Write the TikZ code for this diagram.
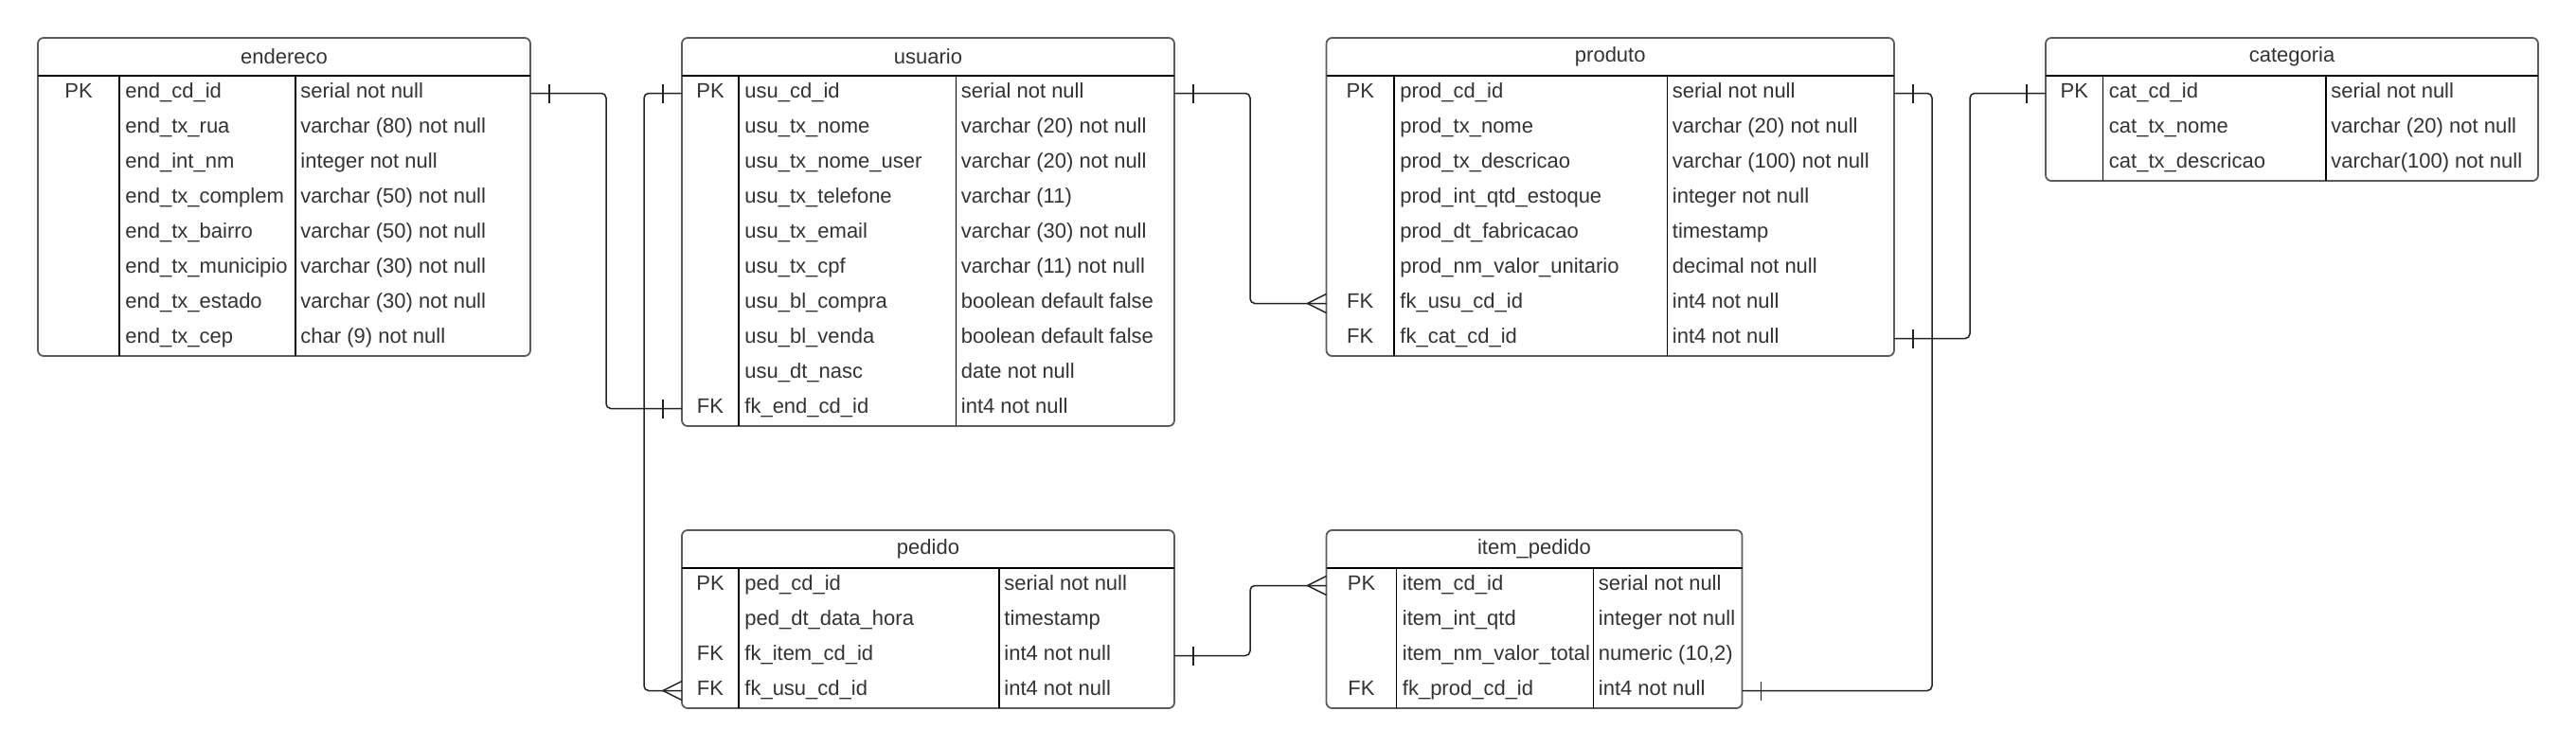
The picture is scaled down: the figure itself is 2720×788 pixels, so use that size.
\documentclass[tikz,border=0pt]{standalone}
\usepackage{fontspec}
\setmainfont{Liberation Sans}
\usetikzlibrary{calc}
\definecolor{txt}{HTML}{333333}
\definecolor{edgegray}{HTML}{5C5C5C}
\definecolor{conncol}{HTML}{222222}
\tikzset{
  tblbox/.style={draw=edgegray, line width=0.9pt, rounded corners=3pt, fill=white, inner sep=0pt, outer sep=0pt},
  innerline/.style={draw=black, line width=0.8pt},
  titletext/.style={text=txt, inner sep=0pt, font=\fontsize{11}{13}\selectfont},
  celltext/.style={text=txt, inner sep=0pt, text height=0.72em, text depth=0pt, font=\fontsize{11}{13}\selectfont},
  conn/.style={draw=conncol, line width=0.75pt, rounded corners=2.5pt},
  connmark/.style={draw=conncol, line width=0.75pt}
}
\newcommand\ertable[9]{%
  \pgfmathsetmacro\tbbot{#6+40+37*#7}%
  \pgfmathsetmacro\tbw{(#3-#2)*0.5}%
  \pgfmathsetmacro\tbh{(\tbbot-#6)*0.5}%
  \node[tblbox, minimum width=\tbw pt, minimum height=\tbh pt, anchor=north west] (#1) at (#2,#6) {};
  \node[titletext] (#1-title) at ({(#2+#3)/2},#6+20) {#8};
  \draw[innerline] (#2,#6+40) -- (#3,#6+40);
  \draw[innerline] (#4,#6+40) -- (#4,\tbbot);
  \draw[innerline] (#5,#6+40) -- (#5,\tbbot);
  \foreach \ekey/\efield/\etype [count=\i] in {#9} {
    \pgfmathsetmacro\ry{#6+40+37*(\i-0.5)}
    \pgfmathsetmacro\ty{\ry-2}
    \coordinate (#1-r\i) at (#2,\ry);
    \coordinate (#1-re\i) at (#3,\ry);
    \node[celltext] (#1-k\i) at ({(#2+#4)/2},\ty) {\ekey};
    \node[celltext, anchor=west] (#1-f\i) at (#4+6,\ty) {\efield};
    \node[celltext, anchor=west] (#1-t\i) at (#5+5,\ty) {\etype};
  }
}
\newcommand\onemark[2]{\draw[connmark] ($(#1)+(#2,-10)$) -- ($(#1)+(#2,10)$);}
\newcommand\crowwest[1]{\draw[connmark] ($(#1)+(0,-10)$) -- ($(#1)+(-20,0)$) -- ($(#1)+(0,10)$);}
\begin{document}
\begin{tikzpicture}[x=0.5pt,y=-0.5pt]
\useasboundingbox (0,0) rectangle (2720,788);
\fill[white] (0,0) rectangle (2720,788);

\ertable{endereco}{40}{560}{126}{312}{40}{8}{endereco}{PK/end\_cd\_id/serial not null, /end\_tx\_rua/varchar (80) not null, /end\_int\_nm/integer not null, /end\_tx\_complem/varchar (50) not null, /end\_tx\_bairro/varchar (50) not null, /end\_tx\_municipio/varchar (30) not null, /end\_tx\_estado/varchar (30) not null, /end\_tx\_cep/char (9) not null}

\ertable{usuario}{720}{1240}{780}{1009.5}{40}{10}{usuario}{PK/usu\_cd\_id/serial not null, /usu\_tx\_nome/varchar (20) not null, /usu\_tx\_nome\_user/varchar (20) not null, /usu\_tx\_telefone/varchar (11), /usu\_tx\_email/varchar (30) not null, /usu\_tx\_cpf/varchar (11) not null, /usu\_bl\_compra/boolean default false, /usu\_bl\_venda/boolean default false, /usu\_dt\_nasc/date not null, FK/fk\_end\_cd\_id/int4 not null}

\ertable{produto}{1400.5}{2000}{1472}{1760.5}{40}{8}{produto}{PK/prod\_cd\_id/serial not null, /prod\_tx\_nome/varchar (20) not null, /prod\_tx\_descricao/varchar (100) not null, /prod\_int\_qtd\_estoque/integer not null, /prod\_dt\_fabricacao/timestamp, /prod\_nm\_valor\_unitario/decimal not null, FK/fk\_usu\_cd\_id/int4 not null, FK/fk\_cat\_cd\_id/int4 not null}

\ertable{categoria}{2160}{2680}{2220.5}{2456}{40}{3}{categoria}{PK/cat\_cd\_id/serial not null, /cat\_tx\_nome/varchar (20) not null, /cat\_tx\_descricao/varchar(100) not null}

\ertable{pedido}{720}{1240}{780}{1055}{560}{4}{pedido}{PK/ped\_cd\_id/serial not null, /ped\_dt\_data\_hora/timestamp, FK/fk\_item\_cd\_id/int4 not null, FK/fk\_usu\_cd\_id/int4 not null}

\ertable{item}{1400.5}{1839.5}{1474.5}{1682.5}{560}{4}{item\_pedido}{PK/item\_cd\_id/serial not null, /item\_int\_qtd/integer not null, /item\_nm\_valor\_total/{numeric (10,2)}, FK/fk\_prod\_cd\_id/int4 not null}

% connectors
\draw[conn] (endereco-re1) -- ++(80,0) |- (usuario-r10);
\onemark{endereco-re1}{20}
\onemark{usuario-r10}{-20}

\draw[conn] (usuario-r1) -- ++(-40,0) |- (pedido-r4);
\onemark{usuario-r1}{-20}
\crowwest{pedido-r4}

\draw[conn] (usuario-re1) -- ++(80,0) |- (produto-r7);
\onemark{usuario-re1}{20}
\crowwest{produto-r7}

\draw[conn] (produto-re1) -- ++(40,0) |- (item-re4);
\onemark{produto-re1}{20}
\onemark{item-re4}{20}

\draw[conn] (produto-re8) -- ++(80,0) |- (categoria-r1);
\onemark{produto-re8}{20}
\onemark{categoria-r1}{-20}

\draw[conn] (pedido-re3) -- ++(80,0) |- (item-r1);
\onemark{pedido-re3}{20}
\crowwest{item-r1}
\end{tikzpicture}
\end{document}
